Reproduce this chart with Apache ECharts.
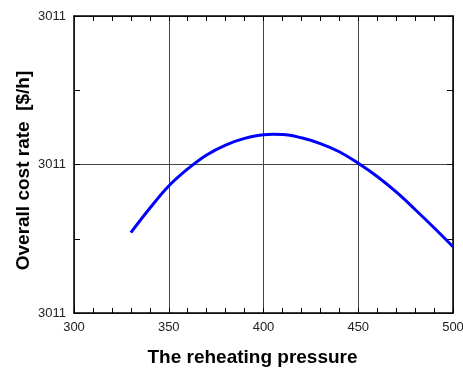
<!DOCTYPE html>
<html>
<head>
<meta charset="utf-8">
<script src="https://cdn.jsdelivr.net/npm/echarts@6/dist/echarts.min.js"></script>
<style>html,body{margin:0;padding:0;background:#fff}#c{width:463px;height:369px}</style>
</head>
<body>
<div id="c"></div>
<script>
var pressure = [330, 340, 350, 360, 370, 380, 390, 400, 405, 410, 420, 430, 440, 450, 460, 470, 480, 490, 500];
var costRate = [3010.9541, 3010.9705, 3010.9855, 3010.9970, 3011.0064, 3011.0131, 3011.0176, 3011.0201, 3011.0203, 3011.0202, 3011.0180, 3011.0141, 3011.0086, 3011.0008, 3010.9919, 3010.9815, 3010.9697, 3010.9574, 3010.9446];
var xTitle = 'The reheating pressure';
var yTitle = 'Overall cost rate  [$/h]';

var chart = echarts.init(document.getElementById('c'));
var lineCol = '#000';
var gridCol = '#444';
var font = 'Liberation Sans, Arial, sans-serif';
chart.setOption({
  animation: false,
  grid: {left: 74, top: 16, right: 10, bottom: 56, outerBoundsMode: 'none', containLabel: false},
  xAxis: [{
    type: 'value', min: 300, max: 500, interval: 50, position: 'bottom',
    name: xTitle, nameLocation: 'middle', nameGap: 35, nameMoveOverlap: false,
    nameTextStyle: {fontFamily: font, fontWeight: 'bold', fontSize: 19, color: '#000', padding: [0, 22, 0, 0]},
    axisLine: {show: true, onZero: false, lineStyle: {color: lineCol, width: 1.5}},
    axisTick: {show: true, inside: true, length: 5, lineStyle: {color: lineCol}},
    minorTick: {show: true, splitNumber: 5, length: 5, lineStyle: {color: lineCol}},
    axisLabel: {fontFamily: font, fontSize: 13, color: '#222', margin: 8},
    splitLine: {show: true, lineStyle: {color: gridCol, width: 1}}
  }, {
    type: 'value', min: 300, max: 500, interval: 50, position: 'top',
    axisLine: {show: true, onZero: false, lineStyle: {color: lineCol, width: 1.5}},
    axisTick: {show: true, inside: true, length: 5, lineStyle: {color: lineCol}},
    minorTick: {show: true, splitNumber: 5, length: 5, lineStyle: {color: lineCol}},
    axisLabel: {show: false},
    splitLine: {show: false}
  }],
  yAxis: [{
    type: 'value', min: 3010.9, max: 3011.1, interval: 0.1, position: 'left',
    name: yTitle, nameLocation: 'middle', nameGap: 41, nameMoveOverlap: false,
    nameTextStyle: {fontFamily: font, fontWeight: 'bold', fontSize: 19, color: '#000', padding: [0, 12, 0, 0]},
    axisLine: {show: true, onZero: false, lineStyle: {color: lineCol, width: 1.5}},
    axisTick: {show: true, inside: true, length: 6, lineStyle: {color: lineCol}},
    minorTick: {show: true, splitNumber: 2, length: 6, lineStyle: {color: lineCol}},
    axisLabel: {fontFamily: font, fontSize: 13, color: '#222', margin: 8,
      formatter: function (v) { return Math.round(v).toString(); }},
    splitLine: {show: true, lineStyle: {color: gridCol, width: 1}}
  }, {
    type: 'value', min: 3010.9, max: 3011.1, interval: 0.1, position: 'right',
    axisLine: {show: true, onZero: false, lineStyle: {color: lineCol, width: 1.5}},
    axisTick: {show: true, inside: true, length: 6, lineStyle: {color: lineCol}},
    minorTick: {show: true, splitNumber: 2, length: 6, lineStyle: {color: lineCol}},
    axisLabel: {show: false},
    splitLine: {show: false}
  }],
  series: [{
    type: 'line',
    data: pressure.map(function (p, i) { return [p, costRate[i]]; }),
    smooth: 0.4,
    showSymbol: false,
    lineStyle: {color: '#0000ff', width: 3},
    itemStyle: {color: '#0000ff'}
  }]
});
</script>
</body>
</html>
